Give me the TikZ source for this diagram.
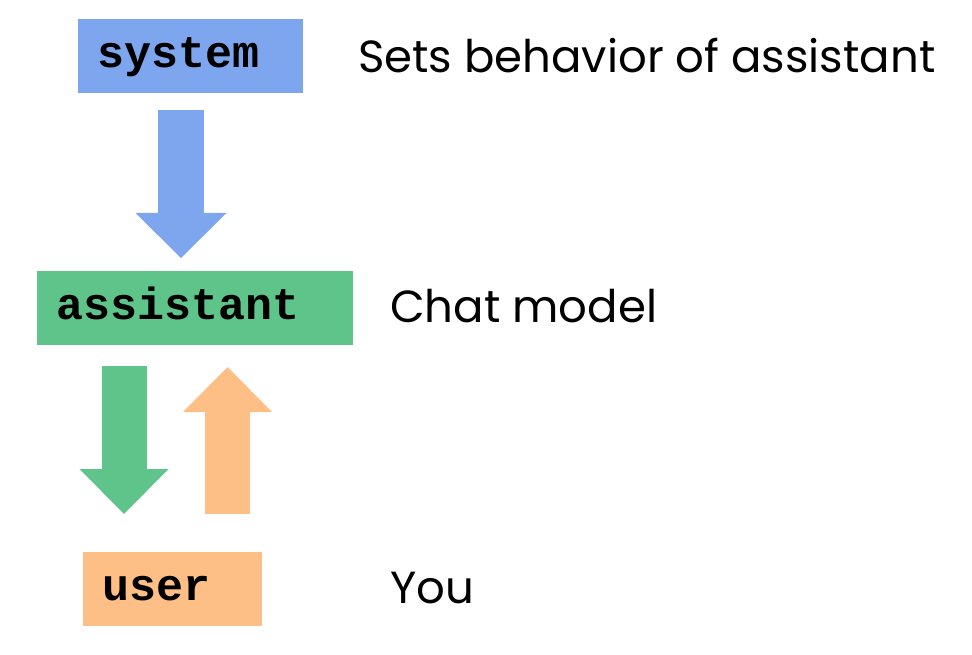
\documentclass[tikz,border=0pt]{standalone}
\usepackage{fontspec}
\setmainfont{Poppins}
\newfontfamily\rolefont{Liberation Mono}
\usetikzlibrary{arrows.meta}
\definecolor{sys-blue}{HTML}{7EA6EE}
\definecolor{asst-green}{HTML}{5EC48A}
\definecolor{user-orange}{HTML}{FDBF86}
\tikzset{
    role-box/.style = {rectangle, anchor=west, inner xsep=19bp, inner ysep=0pt, minimum height=74bp, text height=30bp, text depth=8bp, align=left, font=\rolefont\bfseries\fontsize{45bp}{54bp}\selectfont},
    role-note/.style = {anchor=base west, inner sep=0pt, font=\fontsize{45bp}{54bp}\selectfont},
    role-arrow/.style = {line width=45bp, -{Triangle[length=45bp, width=89bp, line width=0pt]}},
}

\begin{document}
\begin{tikzpicture}[x=1bp, y=-1bp]
\useasboundingbox (0,0) rectangle (972,655);
\node[role-box, fill=sys-blue, text width=187bp] (system) at (78,56.5) {system};
\node[role-box, fill=asst-green, text width=278bp] (assistant) at (37,308) {assistant};
\node[role-box, fill=user-orange, text width=141bp] (user) at (83,589) {user};
\node[role-note] (sys-note) at (358,73) {Sets behavior of assistant};
\node[role-note] (asst-note) at (390,322) {Chat model};
\node[role-note] (user-note) at (390,603) {You};
\coordinate (sys-out) at (181,110);
\coordinate (asst-in) at (181,258);
\coordinate (asst-out) at (124,366);
\coordinate (user-in) at (124,514);
\coordinate (user-out) at (227.5,514);
\coordinate (asst-back) at (227.5,367);
\draw[role-arrow, color=sys-blue, line width=46bp, -{Triangle[length=45bp, width=91bp, line width=0pt]}] (sys-out) -- (asst-in);
\draw[role-arrow, color=asst-green] (asst-out) -- (user-in);
\draw[role-arrow, color=user-orange] (user-out) -- (asst-back);
\end{tikzpicture}
\end{document}
